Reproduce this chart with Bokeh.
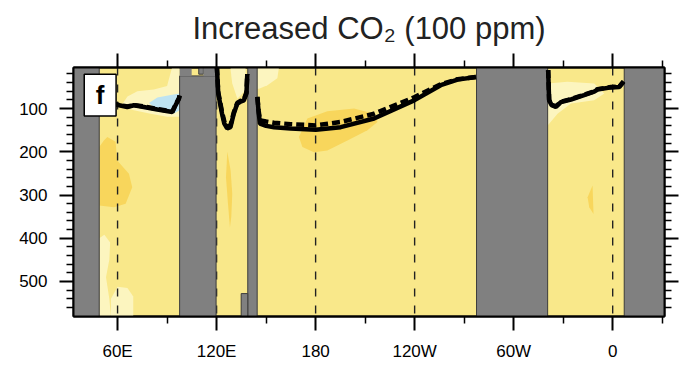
from bokeh.plotting import figure
from bokeh.models import Range1d, LinearAxis, FixedTicker, ColumnDataSource, CategoricalColorMapper
from bokeh.embed import file_html
from bokeh.resources import INLINE
from bokeh.core.properties import value

# ---------------- data ----------------
title_text = "Increased CO\u2082 (100 ppm)"
panel_letter = "f"

x_ticks = [60, 120, 180, 240, 300, 360]
x_tick_labels = ["60E", "120E", "180", "120W", "60W", "0"]
x_minor = [30, 90, 150, 210, 270, 330, 390]
y_ticks = [100, 200, 300, 400, 500]
y_minor = [20, 40, 60, 80, 120, 140, 160, 180, 220, 240, 260, 280, 320, 340, 360, 380,
           420, 440, 460, 480, 520, 540, 560]
grid_lons = [60, 120, 180, 240, 300, 360]

# land mask blocks with outline (lon west, lon east, depth top, depth bottom)
land_w = [33.3, 97.6, 109.2, 138.9, 134.9, 277.5, 367.0]
land_e = [48.9, 119.7, 112.0, 144.6, 138.9, 320.6, 391.4]
land_t = [5, 24.5, 5, 5, 528, 5, 5]
land_b = [581, 581, 20.5, 581, 581, 581, 581]
# surface land cells beside the small ocean notch at 104.9-112E
land_top_w = [97.6, 112.0]
land_top_e = [104.9, 119.7]
land_top_t = [5, 5]
land_top_b = [25.5, 25.5]

# shaded anomaly regions (lon, depth) with class
shade_class = ["pale", "pale", "pale", "pale", "pale", "pale",
               "orange", "orange", "orange", "orange", "blue"]
shade_lon = [
    [61.8, 66, 72, 82, 90, 93, 97.6, 97.6, 90.1, 80, 69.9],
    [48.9, 52, 55.5, 55, 53, 55, 56, 48.9],
    [56, 60, 66, 69.5, 69.5, 56],
    [128.5, 137.6, 137.6, 132.6, 129.5, 128.5],
    [144.6, 157.8, 156.8, 150.8, 145.7, 144.6],
    [320.6, 332.6, 348.8, 354.9, 348.8, 334.7, 326.6, 320.6],
    [51.7, 53.8, 58.8, 59.8, 66.9, 68.9, 64.9, 57.8, 48.9, 48.9],
    [126.5, 128.5, 129.5, 128.9, 128.1, 126.9, 125.7],
    [169.9, 175, 187.1, 203.3, 215.4, 217.5, 211.4, 199.3, 187.1, 179, 172],
    [347.8, 348.4, 345.8, 344.8],
    [79, 84.1, 92.2, 97.6, 97.6, 94.2, 88.1, 82],
]
shade_dep = [
    [96, 72, 60, 56, 48, 5, 5, 119, 119, 112, 104],
    [400, 392, 410, 450, 490, 540, 581, 581],
    [540, 512, 515, 535, 581, 581],
    [5, 5, 57, 77, 42, 11],
    [5, 5, 30, 46, 54, 54],
    [42, 38, 42, 65, 81, 88, 112, 139],
    [174, 166, 177, 220, 251, 282, 320, 328, 324, 189],
    [200, 243, 297, 351, 375, 320, 259],
    [166, 123, 106, 100, 112, 131, 150, 174, 197, 201, 189],
    [278, 344, 328, 305],
    [87, 74.5, 68.4, 65, 104, 111.6, 104, 96.3],
]

# mixed layer depth lines, per basin: solid and dashed
ind_lon = [48.9, 55, 58.8, 65.9, 69.9, 75.9, 84.1, 93.2, 94.6, 97.2, 97.6]
ind_solid = [88, 89, 90.7, 96.3, 92.3, 96.3, 102.3, 108, 96.3, 77, 70]
ind_dash = [87, 88, 90, 95, 92, 95, 101, 107, 95, 76, 70]

wp_lon = [120.2, 121.0, 123.3, 124.7, 126.4, 128.4, 130.4, 132.5, 134.5, 136.5, 138.1, 138.6]
wp_solid = [5, 65, 112, 135, 146, 143, 112, 89, 84, 81, 65, 20]
wp_dash = [5, 62, 108, 130, 141, 139, 109, 87, 82, 79, 62, 20]

pac_lon = [144.7, 145.5, 146.3, 150, 154.8, 164.9, 180.1, 195.2, 215.4, 239.7, 255.8, 266, 277.2]
pac_solid = [73, 110, 135, 140, 143, 146, 149, 143, 123, 81, 46, 33, 27]
pac_dash = [73, 105, 127, 130, 133, 136, 139, 131, 112, 74, 44, 32, 27]

atl_lon = [320.9, 321.5, 323, 325.6, 328.6, 334.7, 342.7, 348.8, 350.8, 359, 364, 366.6]
atl_solid = [11, 81, 92, 96, 85, 79, 69, 61, 56, 51, 50, 38]
atl_dash = [11, 80, 91, 95, 84, 78, 68, 60, 55, 50, 49, 37]

# ---------------- styles ----------------
BASE = "#F9E88A"
PALE = "#FCF5BF"
ORANGE = "#F8D65C"
BLUE = "#BEE3F1"
LAND = "#808080"
FONT = "Liberation Sans"

p = figure(width=686, height=366, output_backend="svg", toolbar_location=None,
           x_range=Range1d(33.3, 391.4), y_range=Range1d(581, 5),
           x_axis_location=None, y_axis_location=None,
           min_border_left=73, min_border_right=22, min_border_top=67, min_border_bottom=50)
p.background_fill_color = BASE
p.border_fill_color = "white"
p.outline_line_color = "black"
p.outline_line_width = 2
p.xgrid.visible = False
p.ygrid.visible = False

p.title.text = title_text
p.title.align = "center"
p.title.vertical_align = "top"
p.title.text_font = FONT
p.title.text_font_size = "31px"
p.title.text_font_style = "normal"
p.title.text_color = "#222222"
p.title.standoff = 12

# shading
src = ColumnDataSource(dict(xs=shade_lon, ys=shade_dep, cls=shade_class))
cmap = CategoricalColorMapper(factors=["pale", "orange", "blue"], palette=[PALE, ORANGE, BLUE])
p.patches("xs", "ys", source=src, fill_color={"field": "cls", "transform": cmap},
          line_color=None)

# dashed meridians
p.segment(x0=grid_lons, x1=grid_lons, y0=[5] * len(grid_lons), y1=[581] * len(grid_lons),
          line_color="#222222", line_width=1.4, line_dash="8 9")

# land
p.quad(left=land_w, right=land_e, top=land_t, bottom=land_b,
       fill_color=LAND, line_color="#3c3c3c", line_width=1)
p.quad(left=land_top_w, right=land_top_e, top=land_top_t, bottom=land_top_b,
       fill_color=LAND, line_color=None)

# mixed layer depth lines
for lo, so, da in [(ind_lon, ind_solid, ind_dash), (wp_lon, wp_solid, wp_dash),
                   (pac_lon, pac_solid, pac_dash), (atl_lon, atl_solid, atl_dash)]:
    p.line(lo, da, line_color="black", line_width=4.5, line_dash="8 4")
    p.line(lo, so, line_color="black", line_width=4.5)

# panel letter box
p.quad(left=[39.8], right=[59.1], top=[20.5], bottom=[117.3],
       fill_color="white", line_color="black", line_width=1.5)
p.text(x=[49.45], y=[69.5], text=[panel_letter], text_font=value(FONT),
       text_font_style="bold", text_font_size="26px", text_align="center",
       text_baseline="middle", text_color="black")

# axes
def style(ax, major, minor, labels=True):
    ax.ticker = FixedTicker(ticks=major, minor_ticks=minor)
    ax.axis_line_width = 2
    ax.axis_line_color = "black"
    ax.major_tick_line_width = 2
    ax.minor_tick_line_width = 1.5
    ax.major_tick_out = 14
    ax.major_tick_in = 0
    ax.minor_tick_out = 7
    ax.minor_tick_in = 0
    ax.major_label_text_font = FONT
    ax.major_label_text_font_size = "17px"
    ax.major_label_text_color = "black"
    if not labels:
        ax.major_label_overrides = {t: "" for t in major}
        ax.major_label_text_font_size = "0px"

xb = LinearAxis()
style(xb, x_ticks, x_minor)
xb.major_label_overrides = dict(zip(x_ticks, x_tick_labels))
xb.major_label_standoff = 11
p.add_layout(xb, "below")

xt = LinearAxis()
style(xt, x_ticks, x_minor, labels=False)
xt.major_label_standoff = 0
p.add_layout(xt, "above")

yl = LinearAxis()
style(yl, y_ticks, y_minor)
yl.major_label_standoff = 12
p.add_layout(yl, "left")

yr = LinearAxis()
style(yr, y_ticks, y_minor, labels=False)
yr.major_label_standoff = 0
p.add_layout(yr, "right")

open("out.html", "w").write(file_html(p, INLINE))
